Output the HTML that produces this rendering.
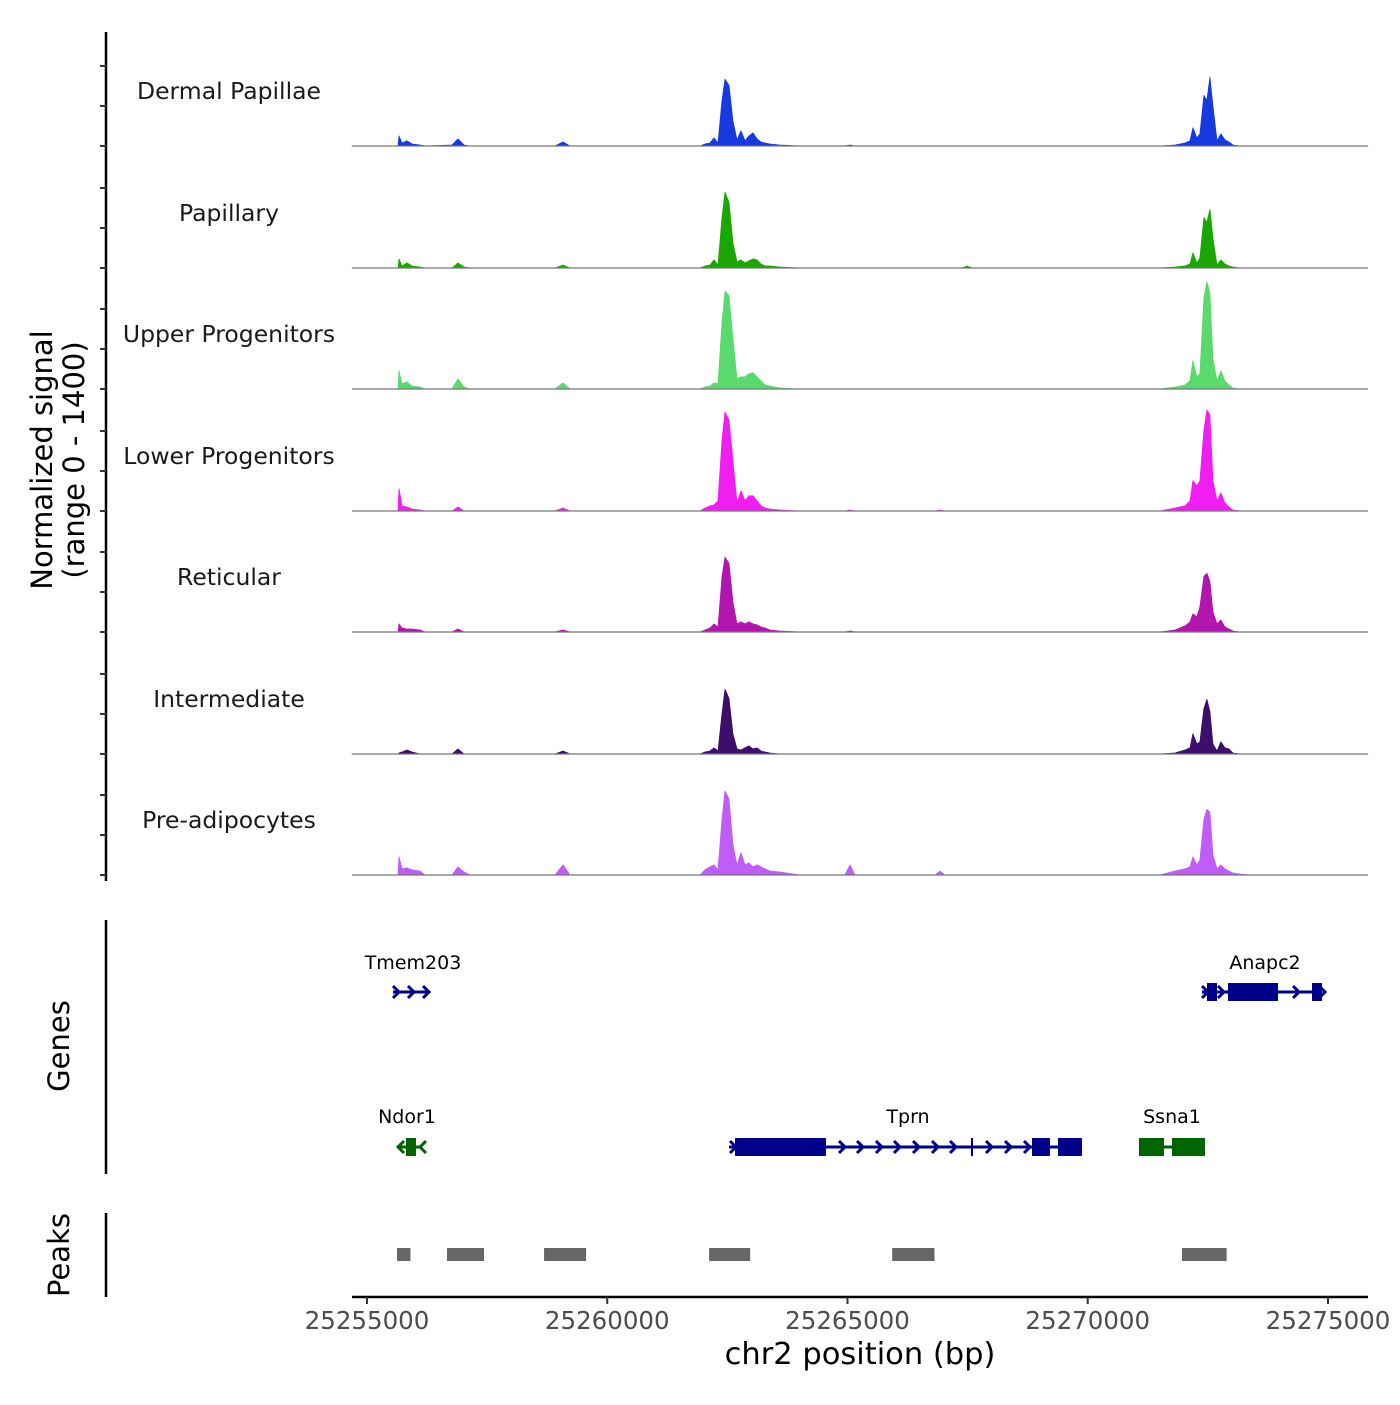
<!DOCTYPE html>
<html><head><meta charset="utf-8"><style>
body{margin:0;background:#fff;}
svg text{font-family:"DejaVu Sans","Liberation Sans",sans-serif;}
</style></head><body>
<svg id="chart" width="1400" height="1400" viewBox="0 0 1400 1400" xmlns="http://www.w3.org/2000/svg">
<g id="tracks"></g>
<g id="axes"></g>
<g id="genes"></g>
<g id="peaks"></g>
<text transform="translate(52,460) rotate(-90)" text-anchor="middle" font-size="29" fill="#000">Normalized signal</text>
<text transform="translate(84,460) rotate(-90)" text-anchor="middle" font-size="29" fill="#000">(range 0 - 1400)</text>
<text transform="translate(69,1046) rotate(-90)" text-anchor="middle" font-size="29" fill="#000">Genes</text>
<text transform="translate(69,1255) rotate(-90)" text-anchor="middle" font-size="29" fill="#000">Peaks</text>
<text x="860" y="1364" text-anchor="middle" font-size="30.5" fill="#000">chr2 position (bp)</text>
</svg>
<script>
const positions=[25254688,25255645,25255666,25255728,25255832,25255936,25256103,25256207,25256769,25256894,25257019,25257143,25258912,25259079,25259224,25261930,25262034,25262138,25262221,25262304,25262388,25262450,25262533,25262616,25262700,25262783,25262866,25262949,25263033,25263116,25263199,25263282,25263386,25263594,25264011,25264947,25265051,25265155,25266820,25266924,25267028,25267382,25267486,25267590,25271502,25271815,25272023,25272127,25272189,25272272,25272335,25272418,25272480,25272543,25272605,25272689,25272772,25272855,25272938,25273021,25273167,25273375,25275831];
const trackNames=["Dermal Papillae","Papillary","Upper Progenitors","Lower Progenitors","Reticular","Intermediate","Pre-adipocytes"];
const trackColors=["#1639e0","#1aa800","#5ad96c","#f01ef0","#b316ae","#3b0f6b","#c05cf7"];
const dermal=[0,0,120,36,60,24,12,0,12,84,12,0,0,48,0,0,24,36,96,36,540,792,720,300,72,180,60,120,156,84,48,36,24,12,0,0,12,0,0,0,0,0,0,0,0,12,36,60,216,96,144,600,540,816,480,60,144,72,48,12,0,0,0];
const papillary=[0,0,108,24,60,24,12,0,0,60,12,0,0,36,0,0,24,36,96,36,600,900,780,300,72,96,60,84,108,96,48,24,24,12,0,0,0,0,0,0,0,0,24,0,0,12,24,48,180,60,120,600,540,696,360,36,96,48,24,12,0,0,0];
const upper=[0,0,216,60,84,36,24,0,0,120,24,0,0,72,0,0,24,36,72,60,780,1164,1104,600,120,144,144,180,192,144,96,48,36,12,0,0,0,0,0,0,0,0,0,0,0,24,48,96,336,144,180,1080,1272,1140,360,96,216,96,48,12,0,0,0];
const lower=[0,0,264,60,48,24,12,0,0,48,0,0,0,36,0,0,36,60,72,120,840,1176,1080,600,96,240,120,180,180,120,60,36,24,12,0,0,12,0,0,12,0,0,0,0,0,36,60,120,360,300,360,960,1200,1140,360,120,216,96,48,12,0,0,0];
const reticular=[0,0,96,48,36,36,24,0,0,36,0,0,0,24,0,0,24,48,96,60,660,888,816,360,96,120,96,120,96,84,60,48,24,12,0,0,12,0,0,0,0,0,0,0,0,24,72,120,216,180,300,660,696,600,240,96,144,60,36,12,0,0,0];
const intermediate=[0,0,12,24,48,24,0,0,0,60,0,0,0,36,0,0,24,36,72,36,480,768,660,240,60,48,72,96,60,72,36,24,12,0,0,0,0,0,0,0,0,0,0,0,0,12,48,72,240,120,144,540,648,504,120,36,144,72,60,12,0,0,0];
const preadipo=[0,0,216,72,84,60,48,0,0,96,36,0,0,120,0,0,60,96,120,60,660,996,900,360,120,264,120,144,96,120,96,72,48,36,0,0,120,0,0,48,0,0,0,0,0,48,72,96,216,120,180,660,780,744,240,72,120,72,48,24,12,0,0];
const seriesValues=[dermal,papillary,upper,lower,reticular,intermediate,preadipo];
const xTicks=[25255000,25260000,25265000,25270000,25275000];
const peakStarts=[25255625,25256665,25258685,25262120,25265930,25271960];
const peakEnds=[25255905,25257435,25259560,25262975,25266810,25272890];

const NS="http://www.w3.org/2000/svg";
const X0=25255000,PX0=367,PXPERBP=961/20000;
function xs(bp){return PX0+(bp-X0)*PXPERBP;}
const baselines=[146,268,389,511,632,754,875];
const TH=118;
function ys(v,b){return b-v/1400*TH;}
function mk(tag,attrs,parent){const e=document.createElementNS(NS,tag);for(const k in attrs)e.setAttribute(k,attrs[k]);parent.appendChild(e);return e;}
const tracks=document.getElementById('tracks');
seriesValues.forEach((vals,t)=>{
  const b=baselines[t];
  const g=mk('g',{},tracks);
  
  
  let d='M'+xs(positions[0]).toFixed(1)+','+b;
  positions.forEach((p,i)=>{d+=' L'+xs(p).toFixed(1)+','+ys(vals[i],b).toFixed(1);});
  d+=' L'+xs(positions[positions.length-1]).toFixed(1)+','+b+' Z';
  const a=mk('path',{d:d,fill:trackColors[t],stroke:trackColors[t],'stroke-width':'0.8','stroke-linejoin':'round'},g);
  
  
  const bl=mk('line',{x1:352,x2:1368,y1:b,y2:b,stroke:'#777','stroke-width':1.2},g);
  
  
  const lab=mk('text',{x:229,y:b-47,'text-anchor':'middle','font-size':23.5,fill:'#1a1a1a'},g);
  lab.textContent=trackNames[t];
  
  
});
const axes=document.getElementById('axes');
function line(x1,y1,x2,y2,w,c,name,p){const l=mk('line',{x1:x1,y1:y1,x2:x2,y2:y2,stroke:c||'#000','stroke-width':w},p||axes);return l;}
line(106,32,106,881,2.5,'#000','y-axis-line');
baselines.forEach(b=>{[0,40,80].forEach(o=>line(100,b-o,106,b-o,2,'#333','y-tick'));});
line(106,920,106,1174,2.5,'#000','genes-axis-line');
line(106,1213,106,1297,2.5,'#000','peaks-axis-line');
line(352,1297,1368,1297,2.5,'#000','x-axis-line');
xTicks.forEach(v=>{
  line(xs(v),1297,xs(v),1304,2,'#333','x-tick');
  const t=mk('text',{x:xs(v),y:1329,'text-anchor':'middle','font-size':24.5,fill:'#4d4d4d'},axes);
  t.textContent=String(v);
  
  
});
const genes=document.getElementById('genes');
function gene(name,lx,ly,y,x1,x2,boxes,color,arrows,dir){
  const g=mk('g',{},genes);
  
  
  const t=mk('text',{x:lx,y:ly,'text-anchor':'middle','font-size':19,fill:'#000'},g);t.textContent=name;
  mk('line',{x1:x1,y1:y,x2:x2,y2:y,stroke:color,'stroke-width':3},g);
  boxes.forEach(bx=>mk('rect',{x:bx[0],y:y-9,width:bx[1]-bx[0],height:18,fill:color},g));
  arrows.forEach(ax=>{const s=dir>0?-6:6;mk('polyline',{points:(ax+s)+','+(y-6)+' '+ax+','+y+' '+(ax+s)+','+(y+6),fill:'none',stroke:color,'stroke-width':3},g);});
}
gene('Tmem203',413,969,992,393,430,[],'#00008b',[399,414,429],1);
gene('Anapc2',1265,969,992,1202,1322,[[1207,1217],[1228,1278],[1312,1322]],'#00008b',[1208,1224,1299,1325],1);
gene('Ndor1',407,1123,1147,398,420,[[406,416]],'#006400',[398,420],-1);
gene('Tprn',908,1123,1147,729,1082,[[735,826],[1032,1050],[1058,1082]],'#00008b',[736,845,863,882,900,919,938,956,992,1011,1030],1);
gene('Ssna1',1172,1123,1147,1139,1205,[[1139,1164],[1172,1205]],'#006400',[],1);
line(972,1138,972,1156,2,'#00008b','tprn-tick',genes);
const peaks=document.getElementById('peaks');
peakStarts.forEach((s,i)=>{
  const r=mk('rect',{x:xs(s),y:1248,width:xs(peakEnds[i])-xs(s),height:13,fill:'#666'},peaks);
  
  
});
</script>
</body></html>
